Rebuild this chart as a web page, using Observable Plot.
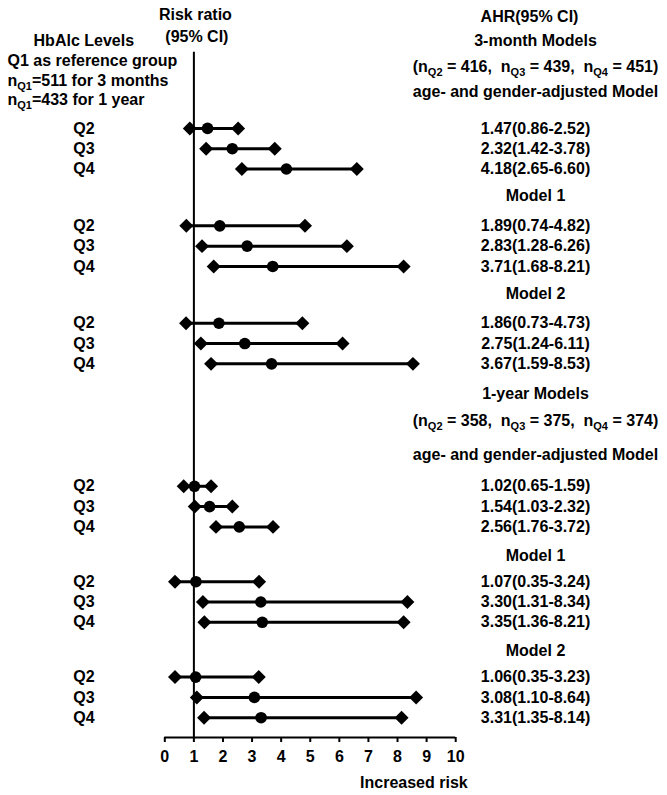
<!DOCTYPE html>
<html><head><meta charset="utf-8">
<script src="https://cdn.jsdelivr.net/npm/d3@7"></script>
<script src="https://cdn.jsdelivr.net/npm/@observablehq/plot@0.6"></script>
<style>
body{margin:0;background:#fff}
svg text{white-space:pre}
</style>
</head><body><div id="chart"></div>
<script>
// ---------------- data ----------------
const quartiles = ["Q2", "Q3", "Q4"];
const sections = ["3-month Models", "1-year Models"];
const sectionN = [[416, 439, 451], [358, 375, 374]];
const refN = [511, 433];
const models = ["age- and gender-adjusted Model", "Model 1", "Model 2"];
// per model (rows) and quartile (columns)
const est3m = [[1.47, 2.32, 4.18], [1.89, 2.83, 3.71], [1.86, 2.75, 3.67]];
const lo3m  = [[0.86, 1.42, 2.65], [0.74, 1.28, 1.68], [0.73, 1.24, 1.59]];
const hi3m  = [[2.52, 3.78, 6.60], [4.82, 6.26, 8.21], [4.73, 6.11, 8.53]];
const est1y = [[1.02, 1.54, 2.56], [1.07, 3.30, 3.35], [1.06, 3.08, 3.31]];
const lo1y  = [[0.65, 1.03, 1.76], [0.35, 1.31, 1.36], [0.35, 1.10, 1.35]];
const hi1y  = [[1.59, 2.32, 3.72], [3.24, 8.34, 8.21], [3.23, 8.64, 8.14]];
const xTicks = [0, 1, 2, 3, 4, 5, 6, 7, 8, 9, 10];

// ---------------- layout ----------------
const W = 667, H = 795;
const ML = 164.3, MR = 667 - 455.2, MB = 58;
const ROW = 20.3;                 // px per row unit
const AXIS_ROW = (H - MB) / ROW;  // bottom of frame in row units
const sectionStart = [6.3, 23.93];
const groupStep = [4.8, 4.7];
const titleOff = [[4.3, 3.01, 1.78], [4.57, 3.24, 1.57]]; // title, n-line, first model header
const modelOff = [1.47, 1.27];
const RIGHT_X = 535 - ML;         // dx of right column centre from frame left
const LEFT_Q_X = 83.5 - ML;

const fmt = v => v.toFixed(2);
const rows = [], headers = [];
[[est3m, lo3m, hi3m], [est1y, lo1y, hi1y]].forEach(([E, L, Hh], s) => {
  const S = sectionStart[s];
  headers.push({y: S - titleOff[s][0], text: sections[s]});
  headers.push({y: S - titleOff[s][1], text: `(n{Q2} = ${sectionN[s][0]},  n{Q3} = ${sectionN[s][1]},  n{Q4} = ${sectionN[s][2]})`});
  models.forEach((m, g) => {
    const top = S + g * groupStep[s];
    headers.push({y: top - (g === 0 ? titleOff[s][2] : modelOff[s]), text: m});
    quartiles.forEach((q, i) => rows.push({y: top + i, q, est: E[g][i], lo: L[g][i], hi: Hh[g][i]}));
  });
});

const leftLines = [
  {y: 1.97, text: "HbAlc Levels", anchor: "middle", dx: 83.3 - ML},
  {y: 2.96, text: "Q1 as reference group", anchor: "start", dx: 7 - ML},
  {y: 3.94, text: `n{Q1}=${refN[0]} for 3 months`, anchor: "start", dx: 7 - ML},
  {y: 4.89, text: `n{Q1}=${refN[1]} for 1 year`, anchor: "start", dx: 7 - ML}
];

const FS = 16;
const textOpts = {fontSize: FS, fontWeight: "bold", fill: "black"};

const plot = Plot.plot({
  width: W, height: H,
  marginLeft: ML, marginRight: MR, marginTop: 0, marginBottom: MB,
  style: {fontFamily: "'Liberation Sans', Arial, sans-serif", fontWeight: "bold", fontSize: "16px", background: "white", color: "black"},
  x: {domain: [0, 10], axis: null},
  y: {domain: [0, AXIS_ROW], reverse: true, axis: null},
  marks: [
    Plot.ruleX([1], {y1: 51.7 / ROW, y2: AXIS_ROW, strokeWidth: 2, stroke: "black"}),
    // x axis: baseline, ticks and labels
    Plot.ruleY([AXIS_ROW], {strokeWidth: 2, stroke: "black"}),
    Plot.ruleX(xTicks, {x: d => d, y1: AXIS_ROW, y2: AXIS_ROW + 5 / ROW, strokeWidth: 2, stroke: "black"}),
    Plot.text(xTicks, {x: d => d, y: AXIS_ROW + 19 / ROW, text: d => String(d), textAnchor: "middle", ...textOpts}),
    Plot.ruleY(rows, {y: "y", x1: "lo", x2: "hi", strokeWidth: 3, stroke: "black"}),
    Plot.dot(rows, {x: "lo", y: "y", symbol: "diamond2", r: 6.3, fill: "black"}),
    Plot.dot(rows, {x: "hi", y: "y", symbol: "diamond2", r: 6.3, fill: "black"}),
    Plot.dot(rows, {x: "est", y: "y", r: 5.8, fill: "black"}),
    Plot.text(rows, {y: "y", text: "q", frameAnchor: "left", dx: LEFT_Q_X, textAnchor: "middle", ...textOpts}),
    Plot.text(rows, {y: "y", text: d => `${fmt(d.est)}(${fmt(d.lo)}-${fmt(d.hi)})`, frameAnchor: "left", dx: RIGHT_X, textAnchor: "middle", ...textOpts}),
    Plot.text(headers, {y: "y", text: "text", frameAnchor: "left", dx: RIGHT_X, textAnchor: "middle", ...textOpts}),
    Plot.text(["AHR(95% CI)"], {y: 0.79, text: d => d, frameAnchor: "left", dx: 529 - ML, textAnchor: "middle", ...textOpts}),
    Plot.text(["Risk ratio"], {x: 1, y: 0.72, text: d => d, dx: 1.5, textAnchor: "middle", ...textOpts}),
    Plot.text(["(95% CI)"], {x: 1, y: 1.81, text: d => d, dx: 3, textAnchor: "middle", ...textOpts}),
    ...leftLines.map(l => Plot.text([l], {y: "y", text: "text", frameAnchor: "left", dx: l.dx, textAnchor: l.anchor, ...textOpts})),
    Plot.text(["Increased risk"], {x: 10, y: AXIS_ROW + 45 / ROW, text: d => d, dx: 12, textAnchor: "end", ...textOpts})
  ]
});

// subscripts: "n{Q1}" -> n with subscript Q1
const NS = "http://www.w3.org/2000/svg";
plot.querySelectorAll("text").forEach(t => {
  const s = t.textContent;
  if (!s.includes("{")) return;
  t.textContent = "";
  let shifted = false;
  s.split(/(\{[^}]*\})/).forEach(p => {
    if (!p) return;
    const ts = document.createElementNS(NS, "tspan");
    if (p.startsWith("{")) {
      ts.textContent = p.slice(1, -1);
      ts.setAttribute("font-size", "11");
      ts.setAttribute("dy", "4");
      shifted = true;
    } else {
      ts.textContent = p;
      if (shifted) { ts.setAttribute("dy", "-4"); shifted = false; }
    }
    t.appendChild(ts);
  });
});

document.getElementById("chart").appendChild(plot);
</script>
</body></html>
